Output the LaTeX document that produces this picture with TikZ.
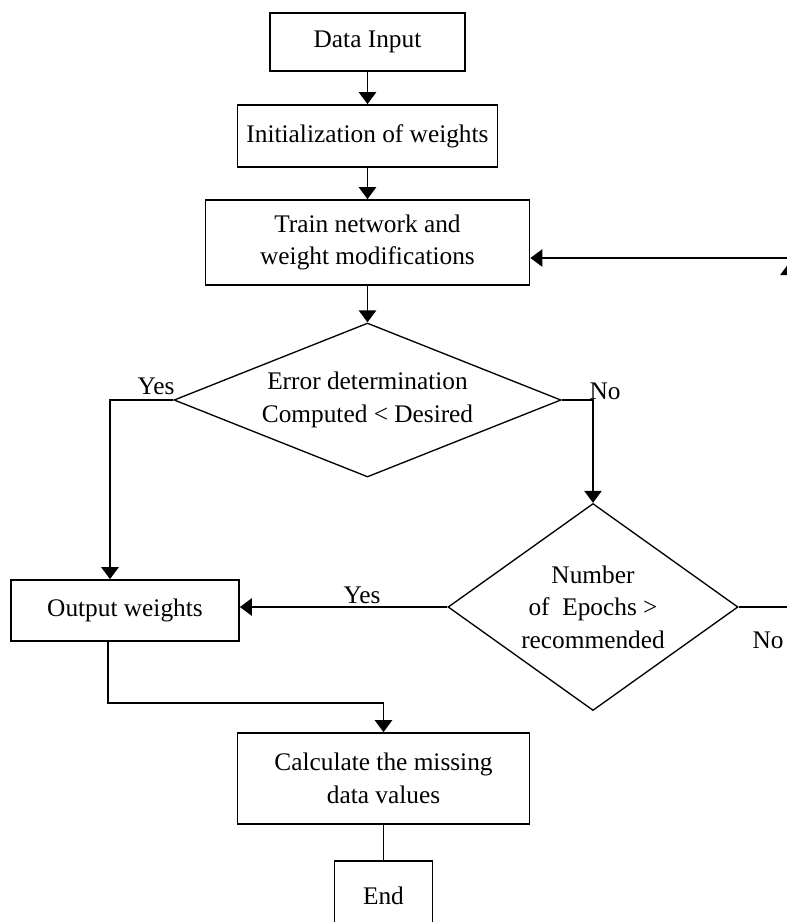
\documentclass[tikz,border=0pt]{standalone}
\usepackage{fontspec}
\setmainfont{Liberation Serif}
\usetikzlibrary{arrows.meta,shapes.geometric}
\tikzset{every picture/.style={line width=0.75pt}}
\newlength{\dpx}
\setlength{\dpx}{0.75pt}
\tikzset{
  flowbox/.style={draw,rectangle,line width=1.3pt,align=center,inner sep=0pt},
  choice/.style={draw,diamond,line width=1pt,align=center,inner sep=0pt},
  flowarrow/.style={line width=1.3pt,-{Triangle[width=13pt,length=9pt]}},
  flowline/.style={line width=1.3pt},
}

\begin{document}
\begin{tikzpicture}[x=0.75pt,y=0.75pt,yscale=-1,font=\fontsize{19}{24.5}\selectfont]
		\useasboundingbox (0,0) rectangle (787,922);
		\clip (0,0) rectangle (787,922);
		
		%Shape: Rectangle [id:input]
		\node[flowbox,minimum width=195\dpx,minimum height=58\dpx] (input) at (367.5,42) {Data Input};
		%Shape: Rectangle [id:init]
		\node[flowbox,minimum width=260\dpx,minimum height=62\dpx] (init) at (367.5,136) {Initialization of weights};
		%Shape: Rectangle [id:train]
		\node[flowbox,minimum width=324\dpx,minimum height=85\dpx] (train) at (367.5,242.5) {Train network and\\weight modifications};
		%Shape: Diamond [id:error]
		\node[choice,shape aspect=2.5,minimum width=387\dpx,minimum height=154\dpx] (error) at (367.5,400) {Error determination\\Computed < Desired};
		%Shape: Diamond [id:epochs]
		\node[choice,shape aspect=1.4,minimum width=290\dpx,minimum height=207\dpx] (epochs) at (593,607) {Number\\of~ Epochs >\\recommended};
		%Shape: Rectangle [id:output]
		\node[flowbox,minimum width=228\dpx,minimum height=61\dpx] (output) at (125,610.5) {Output weights};
		%Shape: Rectangle [id:calc]
		\node[flowbox,minimum width=292\dpx,minimum height=91\dpx] (calc) at (383.5,778.5) {Calculate the missing\\data values};
		%Shape: Rectangle [id:end]
		\node[flowbox,minimum width=98\dpx,minimum height=70\dpx] (end) at (383.5,896) {End};
		
		%Bends
		\coordinate (yesCorner) at (110,400);
		\coordinate (outCorner) at (108,703);
		\coordinate (noCorner) at (789,607);
		\coordinate (loopTop) at (789,263);
		\coordinate (loopBack) at (789,258);
		
		%Straight Lines [id:down]
		\draw[flowarrow] (input) -- (init);
		\draw[flowarrow] (init) -- (train);
		\draw[flowarrow] (train) -- (error);
		\draw[flowline] (calc) -- (end);
		
		%Straight Lines [id:yes]
		\draw[flowarrow] (error.west) -- (yesCorner) -- (yesCorner |- output.north);
		\draw[flowarrow] (epochs.west) -- (epochs.west -| output.east);
		
		%Straight Lines [id:no]
		\draw[flowarrow] (error.east) -| (epochs.north);
		\draw[flowline] (epochs.east) -- (noCorner);
		\draw[flowarrow] (noCorner) -- (loopTop);
		\draw[flowarrow] (loopBack) -- (loopBack -| train.east);
		
		%Straight Lines [id:result]
		\draw[flowarrow] (outCorner |- output.south) -- (outCorner) -| (calc.north);
		
		% Text Node
		\node (yesA) at (156,386) {Yes};
		% Text Node
		\node (noA) at (605,391) {No};
		% Text Node
		\node (yesB) at (362,595) {Yes};
		% Text Node
		\node (noB) at (768,640) {No};
\end{tikzpicture}
\end{document}
